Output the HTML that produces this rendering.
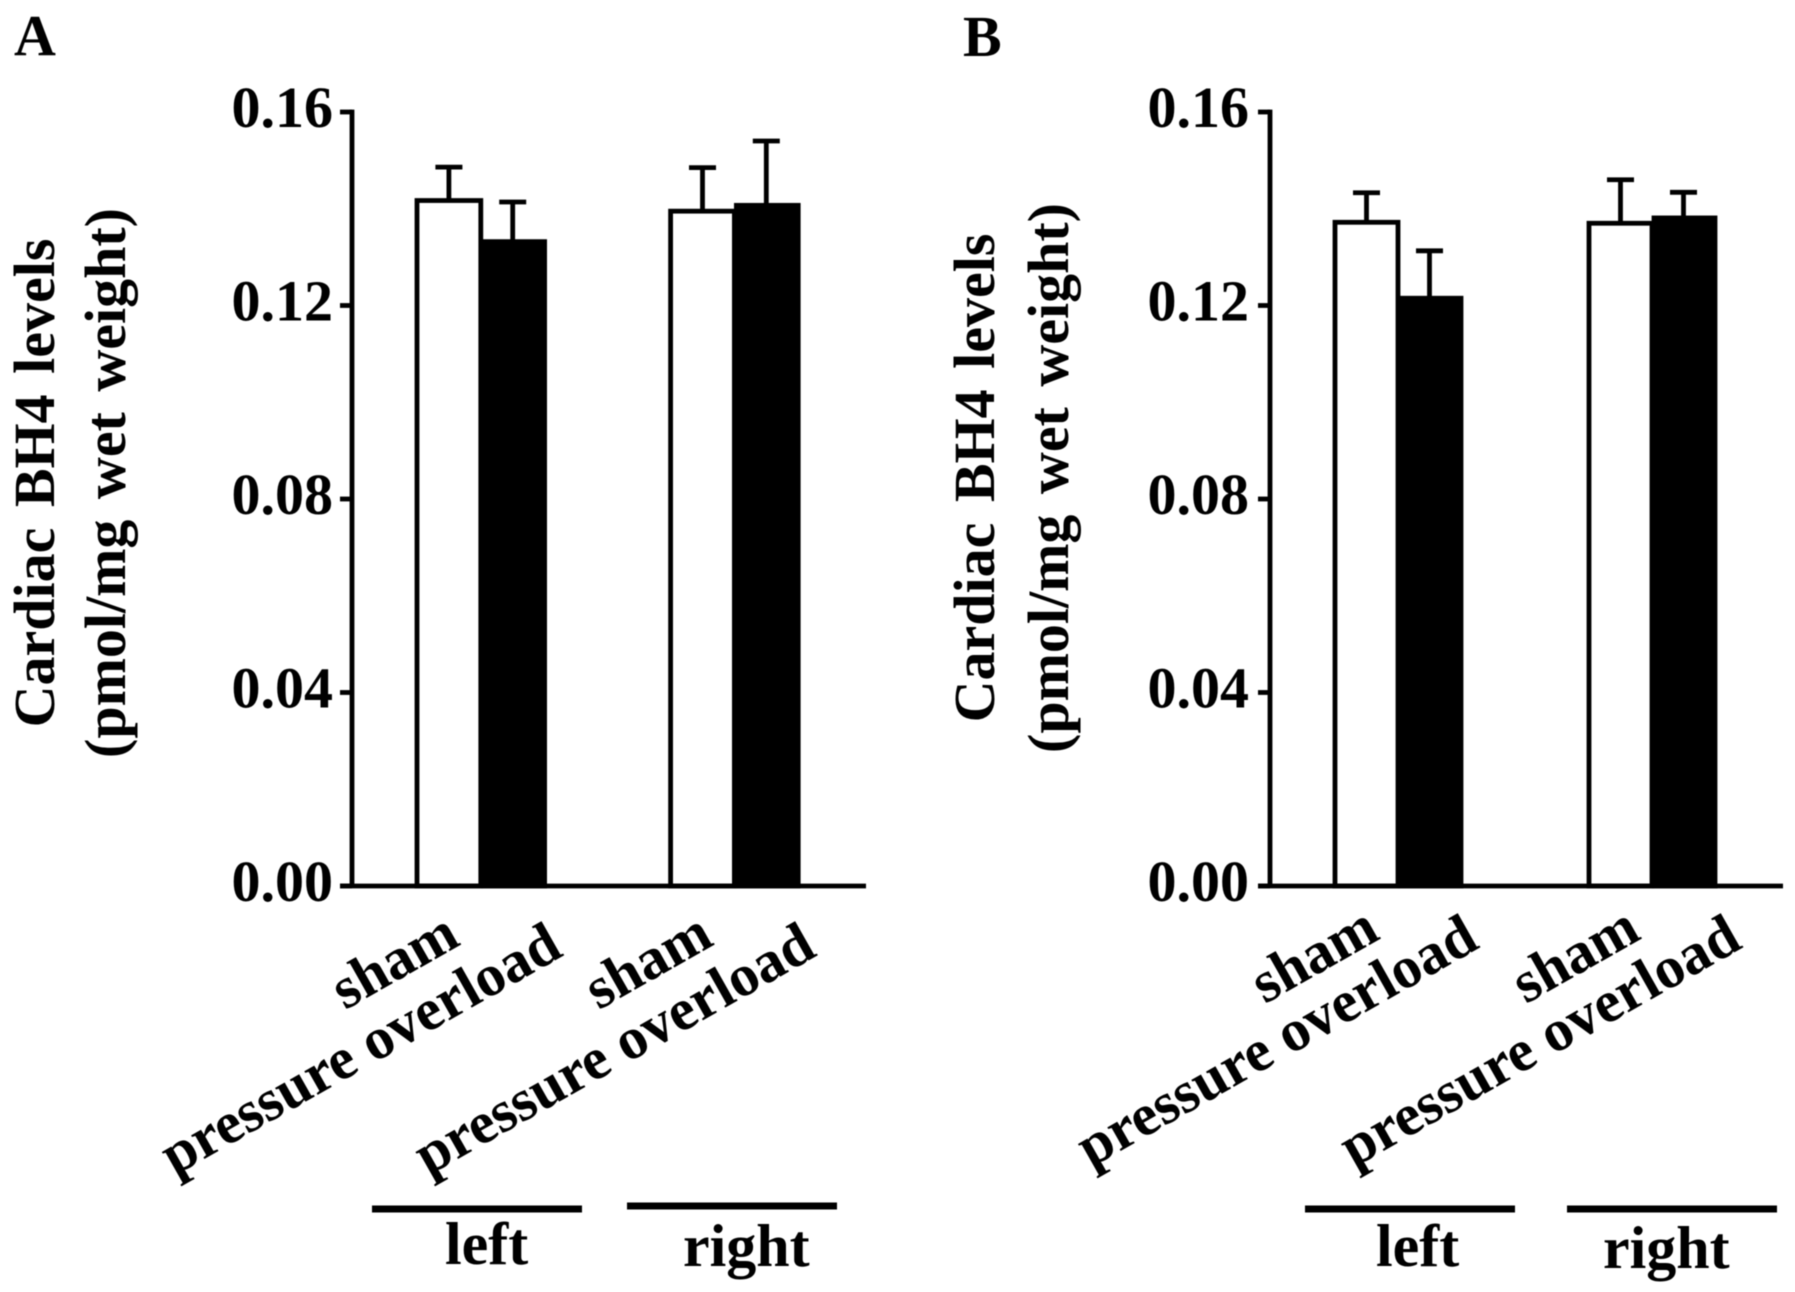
<!DOCTYPE html>
<html lang="en">
<head>
<meta charset="utf-8">
<title>Cardiac BH4 levels</title>
<style>
html,body{margin:0;padding:0;background:#fff;}
svg{display:block;filter:blur(0.6px);}
text{font-family:"Liberation Serif",serif;font-weight:bold;fill:#000;font-size:58px;}
text.large{font-size:59px;}
text.group{font-size:60px;}
</style>
</head>
<body>
<svg id="figure" xmlns="http://www.w3.org/2000/svg" width="1795" height="1292" viewBox="0 0 1795 1292">
  <rect width="1795" height="1292" fill="#fff"/>
  <g id="panel-a"></g>
  <g id="panel-b"></g>
</svg>
<script>
const tickValues = [0, 0.04, 0.08, 0.12, 0.16];
const tickLabels = ["0.00", "0.04", "0.08", "0.12", "0.16"];
const categories = ["sham", "pressure overload", "sham", "pressure overload"];
const groupLabels = ["left", "right"];
const titleLine1 = "Cardiac BH4 levels";
const titleLine2 = "(pmol/mg wet weight)";
const panelAMeans = [0.1417, 0.1332, 0.1395, 0.1407];
const panelAUpper = [0.1486, 0.1414, 0.1485, 0.1540];
const panelBMeans = [0.1372, 0.1215, 0.1370, 0.1381];
const panelBUpper = [0.1433, 0.1313, 0.1460, 0.1434];

const NS = "http://www.w3.org/2000/svg";
function make(parent, tag, attrs, content) {
  const el = document.createElementNS(NS, tag);
  for (const k in attrs) el.setAttribute(k, attrs[k]);
  if (content !== undefined) el.textContent = content;
  parent.appendChild(el);
  return el;
}
const SW = 4.8;
const Y0 = 886, Y_TOP = 112, Y_MAX = 0.16;
function yScale(v) { return Y0 - (v / Y_MAX) * (Y0 - Y_TOP); }

function drawPanel(cfg) {
  const g = document.getElementById(cfg.id);
  function xLeft(i) { return cfg.x0 + i * cfg.barW + (i >= 2 ? cfg.gap : 0); }

  const letter = make(g, "text", {x: cfg.letterX, y: cfg.letterY}, cfg.letter);
  
  

  [[titleLine1, cfg.title1X], [titleLine2, cfg.title2X]].forEach(function (t) {
    const title = make(g, "text", {
      transform: "translate(" + t[1] + "," + cfg.titleY + ") rotate(-90)",
      "text-anchor": "middle", "word-spacing": "6px"
    }, t[0]);
    
    
  });

  tickValues.forEach(function (v, i) {
    const tick = make(g, "line", {x1: cfg.axisX - 12, x2: cfg.axisX, y1: yScale(v), y2: yScale(v), stroke: "#000", "stroke-width": SW});
    
    
    const label = make(g, "text", {x: cfg.tickLabelX, y: yScale(v) + 15, "text-anchor": "end"}, tickLabels[i]);
    
    
  });

  cfg.means.forEach(function (m, i) {
    const left = xLeft(i), mid = left + cfg.barW / 2;
    const whisker = make(g, "line", {x1: mid, x2: mid, y1: yScale(cfg.upper[i]), y2: yScale(m), stroke: "#000", "stroke-width": SW});
    
    
    const cap = make(g, "line", {x1: mid - 13.5, x2: mid + 13.5, y1: yScale(cfg.upper[i]), y2: yScale(cfg.upper[i]), stroke: "#000", "stroke-width": SW});
    
    
    const inset = i % 2 ? 2 : 0;
    const bar = make(g, "rect", {
      x: left + inset, y: yScale(m), width: cfg.barW - inset, height: Y0 - yScale(m),
      fill: i % 2 ? "#000" : "#fff", stroke: "#000", "stroke-width": SW
    });
    
    
  });

  const yAxis = make(g, "line", {x1: cfg.axisX, x2: cfg.axisX, y1: Y_TOP - SW / 2, y2: Y0, stroke: "#000", "stroke-width": SW});
  
  
  const xAxis = make(g, "line", {x1: cfg.axisX - 12, x2: cfg.axisEnd, y1: Y0, y2: Y0, stroke: "#000", "stroke-width": SW});
  
  

  categories.forEach(function (c, i) {
    const left = xLeft(i);
    const ax = left + cfg.barW * (i % 2 ? cfg.endOverload : cfg.endSham) + cfg.labelDx[i];
    const ay = i % 2 ? cfg.overloadY : cfg.shamY;
    const label = make(g, "text", {
      class: "large",
      transform: "translate(" + ax + "," + ay + ") rotate(-29.5)",
      "text-anchor": "end"
    }, c);
    
    
  });

  groupLabels.forEach(function (name, i) {
    const rule = make(g, "line", {x1: cfg.ruleX[i], x2: cfg.ruleX[i] + cfg.ruleLen, y1: cfg.ruleY[i], y2: cfg.ruleY[i], stroke: "#000", "stroke-width": 7});
    
    
    const label = make(g, "text", {class: "group", x: cfg.groupX[i], y: cfg.groupY[i]}, name);
    
    
  });
}

drawPanel({
  id: "panel-a", letter: "A", letterX: 14, letterY: 55,
  title1X: 54, title2X: 125, titleY: 483,
  axisX: 352, axisEnd: 866, tickLabelX: 333,
  x0: 417, barW: 63.8, gap: 126,
  means: panelAMeans, upper: panelAUpper,
  endSham: 0.66, endOverload: 1.27, shamY: 944, overloadY: 955,
  labelDx: [3, 3, 3, 3],
  ruleX: [372, 627], ruleY: [1209, 1206], ruleLen: 210,
  groupX: [445, 683], groupY: [1264, 1266]
});
drawPanel({
  id: "panel-b", letter: "B", letterX: 963, letterY: 56,
  title1X: 994, title2X: 1068, titleY: 478,
  axisX: 1270, axisEnd: 1783, tickLabelX: 1249,
  x0: 1335, barW: 63, gap: 128,
  means: panelBMeans, upper: panelBUpper,
  endSham: 0.68, endOverload: 1.27, shamY: 938, overloadY: 947,
  labelDx: [4, 3, 11, 12],
  ruleX: [1305, 1567], ruleY: [1209, 1209], ruleLen: 210,
  groupX: [1376, 1603], groupY: [1266, 1268]
});
</script>
</body>
</html>
